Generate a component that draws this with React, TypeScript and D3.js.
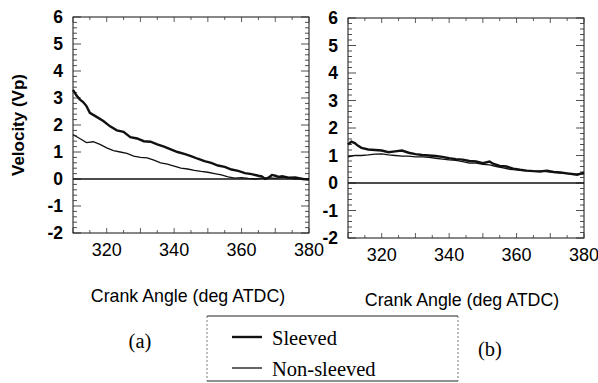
import React, { useRef, useEffect } from 'react';
import * as d3 from 'd3';

// panel (a)
const aSleevedDeg = [310, 311, 312, 313, 314, 315, 317, 319, 321, 323, 325, 327, 329, 331, 333, 335, 337, 339, 341, 343, 345, 347, 349, 351, 353, 355, 357, 359, 361, 363, 365, 366, 367, 368, 369, 370, 371, 372, 374, 376, 378, 380];
const aSleevedVel = [3.3, 3.1, 2.95, 2.85, 2.7, 2.45, 2.3, 2.15, 1.95, 1.8, 1.75, 1.55, 1.5, 1.4, 1.38, 1.28, 1.2, 1.1, 1.0, 0.93, 0.85, 0.75, 0.66, 0.6, 0.5, 0.45, 0.35, 0.3, 0.22, 0.18, 0.12, 0.1, 0.0, 0.05, 0.15, 0.12, 0.08, 0.1, 0.05, 0.06, 0.0, -0.02];
const aNonDeg = [310, 312, 314, 316, 318, 320, 322, 324, 326, 328, 330, 332, 334, 336, 338, 340, 342, 344, 346, 348, 350, 352, 354, 356, 358, 360, 362, 364, 366, 368, 370, 372, 374, 376, 378, 380];
const aNonVel = [1.65, 1.5, 1.35, 1.38, 1.28, 1.15, 1.05, 1.0, 0.95, 0.85, 0.8, 0.78, 0.7, 0.6, 0.55, 0.48, 0.4, 0.37, 0.32, 0.28, 0.25, 0.2, 0.15, 0.08, 0.03, 0.05, 0.02, 0.0, 0.03, 0.05, 0.02, 0.06, 0.03, 0.0, 0.02, 0.0];

// panel (b)
const bSleevedDeg = [310, 311, 312, 313, 314, 316, 318, 320, 322, 324, 326, 328, 330, 332, 334, 336, 338, 340, 342, 344, 346, 348, 350, 352, 353, 355, 357, 359, 361, 363, 365, 367, 369, 371, 373, 375, 377, 378, 380];
const bSleevedVel = [1.4, 1.5, 1.45, 1.35, 1.28, 1.22, 1.2, 1.18, 1.12, 1.15, 1.18, 1.1, 1.05, 1.02, 1.0, 0.98, 0.95, 0.9, 0.87, 0.85, 0.8, 0.78, 0.72, 0.78, 0.7, 0.62, 0.6, 0.52, 0.48, 0.45, 0.43, 0.42, 0.45, 0.4, 0.38, 0.35, 0.32, 0.3, 0.38];
const bNonDeg = [310, 312, 314, 316, 318, 320, 322, 324, 326, 328, 330, 332, 334, 336, 338, 340, 342, 344, 346, 348, 350, 352, 354, 356, 358, 360, 362, 364, 366, 368, 370, 372, 374, 376, 378, 380];
const bNonVel = [0.95, 1.0, 1.0, 1.02, 1.05, 1.06, 1.02, 1.0, 0.98, 0.98, 0.95, 0.95, 0.93, 0.9, 0.87, 0.84, 0.82, 0.78, 0.72, 0.72, 0.68, 0.66, 0.6, 0.55, 0.5, 0.48, 0.45, 0.44, 0.43, 0.42, 0.4, 0.38, 0.35, 0.33, 0.32, 0.33];

const xTicks = [320, 340, 360, 380];
const yTicks = [-2, -1, 0, 1, 2, 3, 4, 5, 6];

const sans = 'Liberation Sans, Arial, sans-serif';
const serif = 'Liberation Serif, Times New Roman, serif';

const zip = (xs: number[], ys: number[]) => xs.map((x, i) => [x, ys[i]] as [number, number]);

function drawPanel(svg: any, box: { x0: number; x1: number; y0: number; y1: number }, sleeved: [number, number][], non: [number, number][]) {
    const x = d3.scaleLinear().domain([310, 380]).range([box.x0, box.x1]);
    const y = d3.scaleLinear().domain([-2, 6]).range([box.y1, box.y0]);
    const g = svg.append('g');

    g.append('rect')
        .attr('x', box.x0).attr('y', box.y0)
        .attr('width', box.x1 - box.x0).attr('height', box.y1 - box.y0)
        .attr('fill', 'none').attr('stroke', '#111').attr('stroke-width', 1);

    // y ticks on both sides, pointing in
    d3.range(-2, 6.001, 0.2).forEach(v => {
        const major = Math.abs(v - Math.round(v)) < 1e-6;
        const len = major ? 8 : 4;
        g.append('line').attr('x1', box.x0).attr('x2', box.x0 + len)
            .attr('y1', y(v)).attr('y2', y(v)).attr('stroke', '#222').attr('stroke-width', 0.8);
        g.append('line').attr('x1', box.x1).attr('x2', box.x1 - len)
            .attr('y1', y(v)).attr('y2', y(v)).attr('stroke', '#222').attr('stroke-width', 0.8);
    });
    d3.range(310, 381, 5).forEach(v => {
        const len = v % 10 === 0 ? 5 : 3;
        g.append('line').attr('x1', x(v)).attr('x2', x(v))
            .attr('y1', box.y1).attr('y2', box.y1 - len).attr('stroke', '#333').attr('stroke-width', 0.8);
        g.append('line').attr('x1', x(v)).attr('x2', x(v))
            .attr('y1', box.y0).attr('y2', box.y0 + len).attr('stroke', '#333').attr('stroke-width', 0.8);
    });

    g.selectAll('text.yt').data(yTicks).join('text')
        .attr('class', 'yt')
        .attr('x', box.x0 - 10).attr('y', (d: number) => y(d) + 6)
        .attr('text-anchor', 'end')
        .style('font-family', sans)
        .style('font-size', '17.5px')
        .style('font-weight', 'bold')
        .text((d: number) => d);

    g.selectAll('text.xt').data(xTicks).join('text')
        .attr('class', 'xt')
        .attr('x', (d: number) => x(d)).attr('y', box.y1 + 23)
        .attr('text-anchor', 'middle')
        .style('font-family', sans)
        .style('font-size', '18px')
        .text((d: number) => d);

    // zero reference
    g.append('line').attr('x1', box.x0).attr('x2', box.x1)
        .attr('y1', y(0)).attr('y2', y(0)).attr('stroke', '#111').attr('stroke-width', 1.3);

    const line = d3.line<[number, number]>().x(d => x(d[0])).y(d => y(d[1]));
    g.append('path').datum(non).attr('d', line)
        .attr('fill', 'none').attr('stroke', '#111').attr('stroke-width', 1.3);
    g.append('path').datum(sleeved).attr('d', line)
        .attr('fill', 'none').attr('stroke', '#111').attr('stroke-width', 2.4);
}

export default function App() {
    const ref = useRef<SVGSVGElement>(null);

    useEffect(() => {
        document.body.style.margin = '0';
        const svg = d3.select(ref.current);
        svg.selectAll('*').remove();

        drawPanel(svg, { x0: 73, x1: 309, y0: 17, y1: 233 }, zip(aSleevedDeg, aSleevedVel), zip(aNonDeg, aNonVel));
        drawPanel(svg, { x0: 348, x1: 584, y0: 18, y1: 238 }, zip(bSleevedDeg, bSleevedVel), zip(bNonDeg, bNonVel));

        svg.append('text')
            .attr('transform', 'translate(24,125) rotate(-90)')
            .attr('text-anchor', 'middle')
            .style('font-family', sans)
            .style('font-size', '17px')
            .style('font-weight', 'bold')
            .text('Velocity (Vp)');

        [[188, 302], [462, 306]].forEach(([cx, cy]) => {
            svg.append('text')
                .attr('x', cx).attr('y', cy)
                .attr('text-anchor', 'middle')
                .style('font-family', sans)
                .style('font-size', '17.8px')
                .text('Crank Angle (deg ATDC)');
        });

        svg.append('text').attr('x', 140).attr('y', 348).attr('text-anchor', 'middle')
            .style('font-family', serif).style('font-size', '20.5px').text('(a)');
        svg.append('text').attr('x', 490).attr('y', 356).attr('text-anchor', 'middle')
            .style('font-family', serif).style('font-size', '20.5px').text('(b)');

        // legend box
        const lg = svg.append('g');
        lg.append('line').attr('x1', 207).attr('x2', 458).attr('y1', 316).attr('y2', 316)
            .attr('stroke', '#222').attr('stroke-width', 1);
        lg.append('line').attr('x1', 207).attr('x2', 458).attr('y1', 381).attr('y2', 381)
            .attr('stroke', '#222').attr('stroke-width', 1);
        [207, 458].forEach(px => {
            lg.append('line').attr('x1', px).attr('x2', px).attr('y1', 316).attr('y2', 381)
                .attr('stroke', '#555').attr('stroke-width', 0.8).attr('stroke-dasharray', '2,2');
        });
        const items = [
            { label: 'Sleeved', w: 2.4, ly: 337, ty: 345 },
            { label: 'Non-sleeved', w: 1.3, ly: 368, ty: 376 },
        ];
        items.forEach(it => {
            lg.append('line').attr('x1', 232).attr('x2', 262).attr('y1', it.ly).attr('y2', it.ly)
                .attr('stroke', '#111').attr('stroke-width', it.w);
            lg.append('text').attr('x', 272).attr('y', it.ty)
                .style('font-family', serif).style('font-size', '20.5px').text(it.label);
        });
    }, []);

    return <svg ref={ref} width={598} height={383} style={{ display: 'block', background: '#fff' }} />;
}
